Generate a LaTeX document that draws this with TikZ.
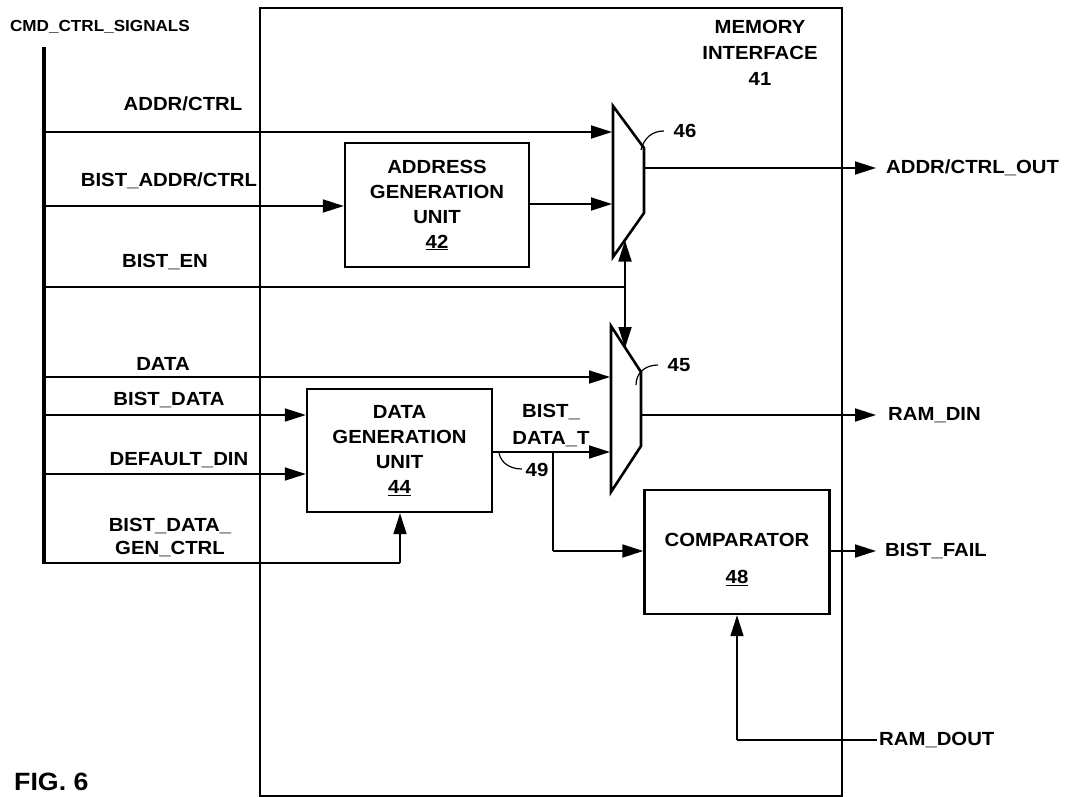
\documentclass[tikz,border=0pt]{standalone}
\usepackage{fontspec}
\setmainfont[FakeStretch=1.07]{Liberation Sans}
\usetikzlibrary{arrows.meta}
\begin{document}
\begin{tikzpicture}[x=1pt,y=-1pt,
  lbl/.style={font=\fontsize{19}{22}\selectfont\bfseries, inner sep=0pt},
  small/.style={font=\fontsize{16}{18}\selectfont\bfseries, inner sep=0pt},
  blk/.style={draw, line width=2.4pt, align=center, inner sep=0pt, font=\fontsize{19}{25}\selectfont\bfseries},
  wire/.style={line width=1.8pt},
  sig/.style={wire, -{Triangle[length=21pt,width=13pt]}},
  lead/.style={line width=1.2pt}]
\useasboundingbox (0,0) rectangle (1065,797);
% memory interface outline
\draw[line width=2pt] (260,8) -- (842,8) -- (842,796) -- (260,796) -- cycle;
\node[lbl, align=center, font=\fontsize{19}{26}\selectfont\bfseries] (mi) at (760,53) {MEMORY\\INTERFACE\\41};

% bus
\node[small] (cmd) at (100,27) {CMD\_CTRL\_SIGNALS};
\coordinate (bustop) at (44,47);
\coordinate (busbot) at (44,564);
\draw[line width=3.4pt] (bustop) -- (busbot);

% blocks
\node[blk, minimum width=184pt, minimum height=124pt] (agu) at (437,205)
  {ADDRESS\\GENERATION\\UNIT\\\underline{42}};
\node[blk, minimum width=185pt, minimum height=123pt] (dgu) at (399.5,450.5)
  {DATA\\GENERATION\\UNIT\\\underline{44}};
\node[blk, minimum width=185pt, minimum height=124pt] (cmp) at (737,552) {};
\node[lbl] at (737,540) {COMPARATOR};
\node[lbl] at (737,578) {\underline{48}};

% mux 46
\coordinate (m46a) at (613,106);
\coordinate (m46b) at (644,148);
\coordinate (m46c) at (644,213);
\coordinate (m46d) at (613,257);
\draw[line width=2.6pt, line join=miter] (m46a) -- (m46b) -- (m46c) -- (m46d) -- cycle;
% mux 45
\coordinate (m45a) at (611,326);
\coordinate (m45b) at (641,372);
\coordinate (m45c) at (641,446);
\coordinate (m45d) at (611,492);
\draw[line width=2.6pt, line join=miter] (m45a) -- (m45b) -- (m45c) -- (m45d) -- cycle;

% ADDR/CTRL
\node[lbl] (l1) at (183,104) {ADDR/CTRL};
\coordinate (b1) at (44,132);
\coordinate (m46i1) at (612,132);
\draw[sig] (b1) -- (m46i1);
% BIST_ADDR/CTRL
\node[lbl] (l2) at (169,181) {BIST\_ADDR/CTRL};
\coordinate (b2) at (44,206);
\draw[sig] (b2) -- (b2 -| agu.west);
\coordinate (m46i2) at (612,204);
\draw[sig] (agu.east |- m46i2) -- (m46i2);
% output 46
\coordinate (o46) at (644,168);
\coordinate (o46e) at (876,168);
\draw[sig] (o46) -- (o46e);
\node[lbl, anchor=west] (l46o) at (886,168) {ADDR/CTRL\_OUT};
\node[lbl] (n46) at (685,131) {46};
\draw[lead] (641,150) .. controls (644,138) and (652,131) .. (664,131);

% BIST_EN and select
\node[lbl] (l3) at (165,262) {BIST\_EN};
\coordinate (b3) at (44,287);
\coordinate (selj) at (625,287);
\draw[wire] (b3) -- (selj);
\coordinate (s46) at (625,240.5);
\coordinate (s45) at (625,348);
\draw[sig] (selj) -- (s46);
\draw[sig] (selj) -- (s45);

% DATA
\node[lbl] (l4) at (163,364) {DATA};
\coordinate (b4) at (44,377);
\coordinate (m45i1) at (610,377);
\draw[sig] (b4) -- (m45i1);
% BIST_DATA
\node[lbl] (l5) at (169,400) {BIST\_DATA};
\coordinate (b5) at (44,415);
\draw[sig] (b5) -- (b5 -| dgu.west);
% DEFAULT_DIN
\node[lbl] (l6) at (179,460) {DEFAULT\_DIN};
\coordinate (b6) at (44,474);
\draw[sig] (b6) -- (b6 -| dgu.west);
% BIST_DATA_GEN_CTRL
\node[lbl, align=center, font=\fontsize{19}{23}\selectfont\bfseries] (l7) at (170,537.5) {BIST\_DATA\_\\GEN\_CTRL};
\coordinate (b7) at (44,563);
\coordinate (c7) at (400,563);
\draw[wire] (b7) -- (c7);
\draw[sig] (c7) -- (c7 |- dgu.south);

% BIST_DATA_T
\coordinate (m45i2) at (610,452);
\draw[sig] (dgu.east |- m45i2) -- (m45i2);
\node[lbl, align=center, font=\fontsize{19}{27}\selectfont\bfseries] (l8) at (551,426) {BIST\_\\DATA\_T};
\coordinate (br) at (553,452);
\coordinate (brc) at (553,551);
\draw[wire] (br) -- (brc);
\draw[sig] (brc) -- (brc -| cmp.west);
\draw[lead] (499,453) .. controls (501,463) and (510,469) .. (522,469);
\node[lbl] (n49) at (537,470) {49};

% output 45
\coordinate (o45) at (641,415);
\coordinate (o45e) at (876,415);
\draw[sig] (o45) -- (o45e);
\node[lbl, anchor=west] (l45o) at (888,415) {RAM\_DIN};
\node[lbl] (n45) at (679,365) {45};
\draw[lead] (636,385) .. controls (636,373) and (645,365) .. (658,365);

% BIST_FAIL
\coordinate (fe) at (876,551);
\draw[sig] (cmp.east |- fe) -- (fe);
\node[lbl, anchor=west] (lf) at (885,551) {BIST\_FAIL};

% RAM_DOUT
\coordinate (rd) at (877,740);
\coordinate (rdc) at (737,740);
\draw[wire] (rd) -- (rdc);
\draw[sig] (rdc) -- (cmp.south);
\node[lbl, anchor=west] (lrd) at (879,740) {RAM\_DOUT};

% figure label
\node[font=\fontsize{25}{28}\selectfont\bfseries, inner sep=0pt, anchor=west] (fig) at (14,782) {FIG. 6};
\end{tikzpicture}
\end{document}
